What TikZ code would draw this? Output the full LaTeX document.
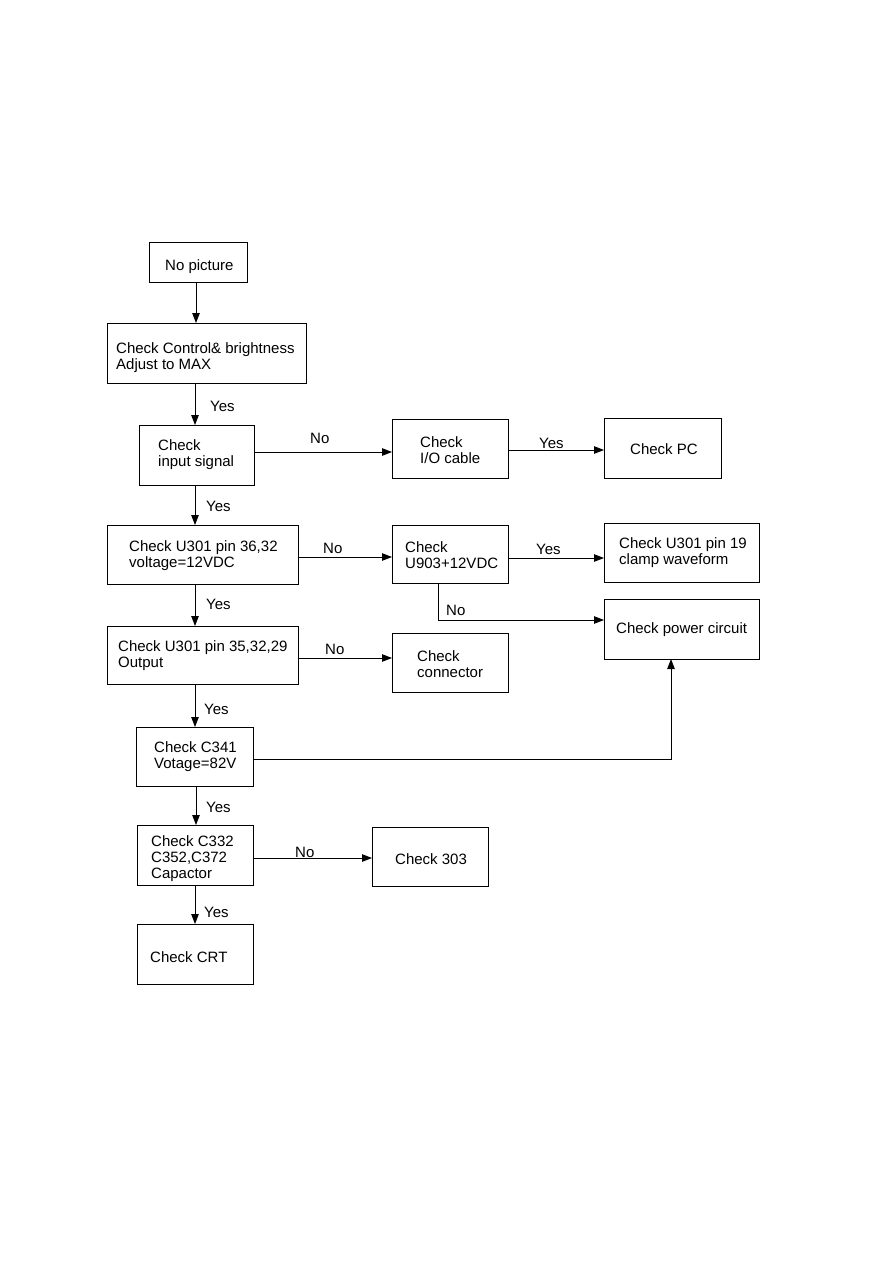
\documentclass[tikz,border=0pt]{standalone}
\usepackage{fontspec}
\setmainfont{Liberation Sans}
\usetikzlibrary{arrows.meta}
\tikzset{
  box/.style={draw, line width=1pt, inner sep=0pt, outer sep=0pt},
  txt/.style={anchor=west, inner sep=0pt, align=left, font=\fontsize{15}{15.8}\selectfont},
  lbl/.style={anchor=west, inner sep=0pt, font=\fontsize{15}{15.8}\selectfont},
  arr/.style={line width=0.9pt, -{Triangle[length=10pt,width=7.5pt]}},
  ln/.style={line width=0.9pt}
}
\begin{document}
\begin{tikzpicture}[x=1pt,y=-1pt]
\useasboundingbox (0,0) rectangle (893,1263);
% boxes
\node[box, minimum width=98pt,  minimum height=40pt] (n1)  at (198,262) {};
\node[box, minimum width=199pt, minimum height=60pt] (n2)  at (206.5,353) {};
\node[box, minimum width=115pt, minimum height=60pt] (n3)  at (196.5,455) {};
\node[box, minimum width=116pt, minimum height=59pt] (n4)  at (450,448.5) {};
\node[box, minimum width=117pt, minimum height=60pt] (n5)  at (662.5,448) {};
\node[box, minimum width=191pt, minimum height=59pt] (n6)  at (202.5,554.5) {};
\node[box, minimum width=116pt, minimum height=58pt] (n7)  at (450,554) {};
\node[box, minimum width=155pt, minimum height=59pt] (n8)  at (681.5,552.5) {};
\node[box, minimum width=155pt, minimum height=60pt] (n9)  at (681.5,629) {};
\node[box, minimum width=191pt, minimum height=58pt] (n10) at (202.5,655) {};
\node[box, minimum width=116pt, minimum height=59pt] (n11) at (450,662.5) {};
\node[box, minimum width=117pt, minimum height=59pt] (n12) at (194.5,756.5) {};
\node[box, minimum width=116pt, minimum height=60pt] (n13) at (195,855) {};
\node[box, minimum width=116pt, minimum height=59pt] (n14) at (430,856.5) {};
\node[box, minimum width=116pt, minimum height=60pt] (n15) at (195,954) {};
% box texts
\node[txt] (t1)  at (165,267) {No picture};
\node[txt] (t2)  at (116,358) {Check Control\& brightness\\Adjust to MAX};
\node[txt] (t3)  at (158,455) {Check\\input signal};
\node[txt] (t4)  at (420,450.5) {Check\\I/O cable};
\node[txt] (t5)  at (630,449.5) {Check PC};
\node[txt] (t6)  at (129,555.5) {Check U301 pin 36,32\\voltage=12VDC};
\node[txt] (t7)  at (405,555.5) {Check\\U903+12VDC};
\node[txt] (t8)  at (619,552.5) {Check U301 pin 19\\clamp waveform};
\node[txt] (t9)  at (616,630) {Check power circuit};
\node[txt] (t10) at (118,655.5) {Check U301 pin 35,32,29\\Output};
\node[txt] (t11) at (417,664.5) {Check\\connector};
\node[txt] (t12) at (154,756.5) {Check C341\\Votage=82V};
\node[txt] (t13) at (151,858.5) {Check C332\\C352,C372\\Capactor};
\node[txt] (t14) at (395,859) {Check 303};
\node[txt] (t15) at (150,957) {Check CRT};
% guide coordinates
\coordinate (xa) at (196,0);
\coordinate (xb) at (195,0);
\coordinate (xu) at (438,0);
\coordinate (xp) at (671,0);
\coordinate (y34) at (0,452);
\coordinate (y45) at (0,450);
\coordinate (y67) at (0,557);
\coordinate (y78) at (0,558);
\coordinate (y79) at (0,620);
\coordinate (y1011) at (0,658);
\coordinate (y129) at (0,759);
\coordinate (y1314) at (0,858);
\coordinate (bend1) at (438,620);
\coordinate (bend2) at (671,759);
% connectors
\draw[arr] (n1.south -| xa) -- (n2.north -| xa);
\draw[arr] (n2.south -| xb) -- (n3.north -| xb);
\draw[arr] (n3.east |- y34) -- (n4.west |- y34);
\draw[arr] (n4.east |- y45) -- (n5.west |- y45);
\draw[arr] (n3.south -| xb) -- (n6.north -| xb);
\draw[arr] (n6.east |- y67) -- (n7.west |- y67);
\draw[arr] (n7.east |- y78) -- (n8.west |- y78);
\draw[arr] (n7.south -| xu) -- (bend1) -- (n9.west |- y79);
\draw[arr] (n6.south -| xb) -- (n10.north -| xb);
\draw[arr] (n10.east |- y1011) -- (n11.west |- y1011);
\draw[arr] (n10.south -| xb) -- (n12.north -| xb);
\draw[arr] (n12.east |- y129) -- (bend2) -- (n9.south -| xp);
\draw[arr] (n12.south -| xa) -- (n13.north -| xa);
\draw[arr] (n13.east |- y1314) -- (n14.west |- y1314);
\draw[arr] (n13.south -| xb) -- (n15.north -| xb);
% connector labels
\node[lbl] (l1)  at (210,406) {Yes};
\node[lbl] (l2)  at (310,438) {No};
\node[lbl] (l3)  at (539,443) {Yes};
\node[lbl] (l4)  at (206,506) {Yes};
\node[lbl] (l5)  at (323,548) {No};
\node[lbl] (l6)  at (536,549) {Yes};
\node[lbl] (l7)  at (446,610) {No};
\node[lbl] (l8)  at (206,604) {Yes};
\node[lbl] (l9)  at (325,649) {No};
\node[lbl] (l10) at (204,709) {Yes};
\node[lbl] (l11) at (206,807) {Yes};
\node[lbl] (l12) at (295,852) {No};
\node[lbl] (l13) at (204,912) {Yes};
\end{tikzpicture}
\end{document}
